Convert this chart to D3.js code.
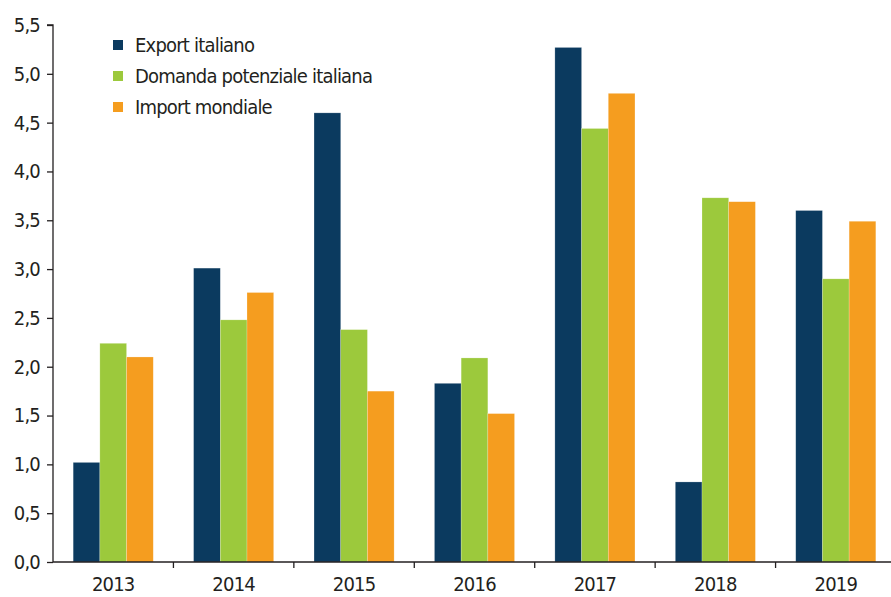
<!DOCTYPE html>
<html>
<head>
<meta charset="utf-8">
<script src="https://cdn.jsdelivr.net/npm/d3@7"></script>
<style>
  body { margin: 0; background: #fff; overflow: hidden; }
  svg text { font-family: "Liberation Sans Narrow", "DejaVu Sans Condensed", sans-serif; fill: #231f20; letter-spacing: -0.8px; }
</style>
</head>
<body>
<div class="container"></div>
<script>
// anni e serie (variazioni %)
const years = ["2013", "2014", "2015", "2016", "2017", "2018", "2019"]
const seriesNames = ["Export italiano", "Domanda potenziale italiana", "Import mondiale"]
const exportIt = [1.02, 3.01, 4.60, 1.83, 5.27, 0.82, 3.60]
const domanda = [2.24, 2.48, 2.38, 2.09, 4.44, 3.73, 2.90]
const importMond = [2.10, 2.76, 1.75, 1.52, 4.80, 3.69, 3.49]
const yTicks = [0, 0.5, 1, 1.5, 2, 2.5, 3, 3.5, 4, 4.5, 5, 5.5]
const colors = ["#0b3a5f", "#9cc93c", "#f59d1f"]

const allSeries = [exportIt, domanda, importMond]

const width = 891, height = 597
const mLeft = 53, mRight = 896, mTop = 25, mBottom = 562

const svg = d3.select(".container").append("svg")
    .attr("width", width)
    .attr("height", height)

const x = d3.scaleBand().domain(years).range([mLeft, mRight]).paddingInner(0.335).paddingOuter(0.1675)
const xs = d3.scaleBand().domain(seriesNames).range([0, x.bandwidth()])
const y = d3.scaleLinear().domain([0, 5.5]).range([mBottom, mTop])

// barre
years.forEach((yr, i) => {
    const g = svg.append("g").attr("transform", `translate(${x(yr)},0)`)
    seriesNames.forEach((s, j) => {
        const v = allSeries[j][i]
        g.append("rect")
            .attr("x", xs(s))
            .attr("y", y(v))
            .attr("width", xs.bandwidth())
            .attr("height", y(0) - y(v))
            .attr("fill", colors[j])
            .attr("stroke", "rgba(255,255,255,0.35)")
            .attr("stroke-width", 0.6)
    })
})

// asse y
const yAxis = svg.append("g")
    .attr("transform", `translate(${mLeft},0)`)
    .call(d3.axisLeft(y).tickValues(yTicks).tickSize(6).tickPadding(7)
        .tickFormat(d => d3.format(".1f")(d).replace(".", ",")))
yAxis.attr("font-family", null).attr("font-size", null)
yAxis.selectAll("text").attr("font-size", 20).attr("fill", "#231f20")
yAxis.selectAll("line, path").attr("stroke", "#231f20").attr("stroke-width", 1.3)
yAxis.select(".domain").attr("d", `M-6,${mTop}H0V${mBottom}`)

// asse x
const step = x.step()
svg.append("line")
    .attr("x1", mLeft).attr("x2", width)
    .attr("y1", mBottom).attr("y2", mBottom)
    .attr("stroke", "#231f20").attr("stroke-width", 1.3)
d3.range(1, years.length).forEach(k => {
    const tx = mLeft + k * step
    svg.append("line")
        .attr("x1", tx).attr("x2", tx)
        .attr("y1", mBottom).attr("y2", mBottom + 6)
        .attr("stroke", "#231f20").attr("stroke-width", 1.3)
})
svg.selectAll(".xlab").data(years).enter()
    .append("text")
    .attr("class", "xlab")
    .attr("x", d => x(d) + x.bandwidth() / 2)
    .attr("y", 591)
    .attr("text-anchor", "middle")
    .attr("font-size", 20)
    .text(d => d)

// legenda
seriesNames.forEach((s, j) => {
    const cy = 45 + j * 31
    svg.append("rect")
        .attr("x", 113).attr("y", cy - 5)
        .attr("width", 10).attr("height", 10)
        .attr("fill", colors[j])
    svg.append("text")
        .attr("x", 135).attr("y", cy + 7)
        .attr("font-size", 20)
        .text(s)
})
</script>
</body>
</html>
